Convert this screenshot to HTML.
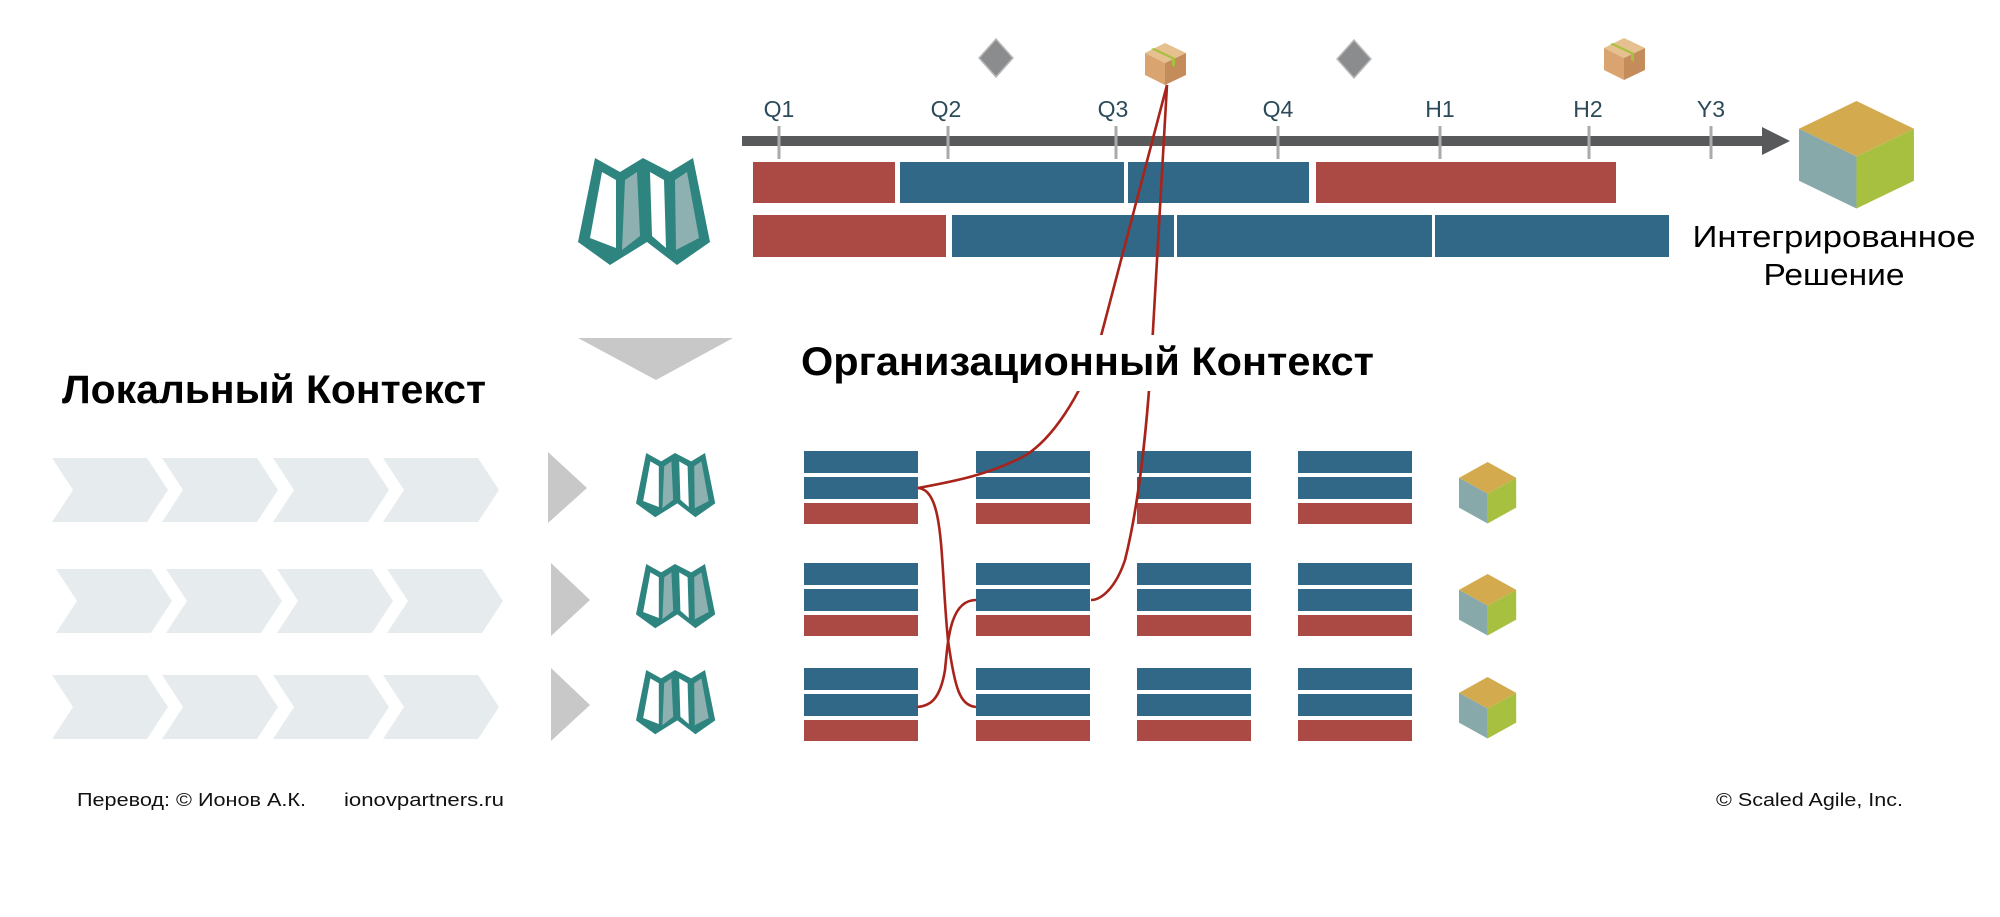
<!DOCTYPE html>
<html><head><meta charset="utf-8"><style>
html,body{margin:0;padding:0;background:#fff;width:2000px;height:917px;overflow:hidden}
svg{display:block}
text{font-family:"Liberation Sans",sans-serif}
</style></head><body>
<svg width="2000" height="917" viewBox="0 0 2000 917" xmlns="http://www.w3.org/2000/svg">
<defs>
<g id="map">
<polygon points="17,0 42,14 65,0 92,14 115,0 132,84 99,107 69,84 32,107 0,84" fill="#2e8580"/>
<polygon points="24,14 38,22 38,90 12,80" fill="#fff"/>
<polygon points="47,22 59,14 62,78 44,92" fill="#8fb0b0"/>
<polygon points="72,14 86,22 88,90 74,78" fill="#fff"/>
<polygon points="97,22 109,14 121,80 98,92" fill="#8fb0b0"/>
</g>
<g id="cube">
<polygon points="55,0 110,33 55,66 0,33" fill="#d4aa4f"/>
<polygon points="0,33 55,66 55,128 0,95" fill="#88a9a9"/>
<polygon points="110,33 55,66 55,128 110,95" fill="#a8c040"/>
</g>
<g id="box">
<polygon points="20,0 41,10 20,20 0,10" fill="#e6c08e"/>
<polygon points="0,10 20,20 20,42 0,32" fill="#d9a470"/>
<polygon points="41,10 20,20 20,42 41,32" fill="#c48c5a"/>
<polygon points="9,5 30,15 30,24 27,22 27,16 6,6" fill="#a8c040"/>
</g>
<g id="chev">
<polygon points="0,0 95,0 116,32 95,64 0,64 21,32" fill="#e6eced"/>
</g>
<g id="team">
<rect x="0" y="0" width="114" height="22" fill="#316787"/>
<rect x="0" y="26" width="114" height="22" fill="#316787"/>
<rect x="0" y="52" width="114" height="21" fill="#ab4a44"/>
</g>
</defs>

<!-- milestones -->
<polygon points="996,39 1013,58 996,77 979,58" fill="#8a8c8e" stroke="#bbb" stroke-width="1.5"/>
<polygon points="1354,40 1371,59 1354,78 1337,59" fill="#8a8c8e" stroke="#bbb" stroke-width="1.5"/>
<use href="#box" x="1145" y="43"/>
<use href="#box" x="1604" y="38"/>

<!-- axis -->
<rect x="742" y="136" width="1024" height="10" fill="#58595b"/>
<polygon points="1762,127 1790,141 1762,155" fill="#58595b"/>
<g stroke="#aaa" stroke-width="3">
<line x1="779" y1="126" x2="779" y2="159"/><line x1="948" y1="126" x2="948" y2="159"/>
<line x1="1116" y1="126" x2="1116" y2="159"/><line x1="1278" y1="126" x2="1278" y2="159"/>
<line x1="1440" y1="126" x2="1440" y2="159"/><line x1="1589" y1="126" x2="1589" y2="159"/>
<line x1="1711" y1="126" x2="1711" y2="159"/>
</g>
<g fill="#2b4a5a" font-size="23" text-anchor="middle">
<text x="779" y="117">Q1</text><text x="946" y="117">Q2</text><text x="1113" y="117">Q3</text>
<text x="1278" y="117">Q4</text><text x="1440" y="117">H1</text><text x="1588" y="117">H2</text>
<text x="1711" y="117">Y3</text>
</g>

<!-- top bars -->
<rect x="753" y="162" width="142" height="41" fill="#ab4a44"/>
<rect x="900" y="162" width="224" height="41" fill="#316787"/>
<rect x="1128" y="162" width="181" height="41" fill="#316787"/>
<rect x="1316" y="162" width="300" height="41" fill="#ab4a44"/>
<rect x="753" y="215" width="193" height="42" fill="#ab4a44"/>
<rect x="952" y="215" width="222" height="42" fill="#316787"/>
<rect x="1177" y="215" width="255" height="42" fill="#316787"/>
<rect x="1435" y="215" width="234" height="42" fill="#316787"/>

<use href="#map" x="578" y="158"/>
<use href="#cube" transform="translate(1799,101) scale(1.045,0.84)"/>
<text x="1834" y="247" font-size="31" text-anchor="middle" textLength="283" lengthAdjust="spacingAndGlyphs">Интегрированное</text>
<text x="1834" y="285" font-size="31" text-anchor="middle" textLength="141" lengthAdjust="spacingAndGlyphs">Решение</text>

<polygon points="578,338 733,338 656,380" fill="#c8c8c8"/>

<!-- teams -->
<g>
<use href="#team" x="804" y="451"/><use href="#team" x="976" y="451"/><use href="#team" x="1137" y="451"/><use href="#team" x="1298" y="451"/>
<use href="#team" x="804" y="563"/><use href="#team" x="976" y="563"/><use href="#team" x="1137" y="563"/><use href="#team" x="1298" y="563"/>
<use href="#team" x="804" y="668"/><use href="#team" x="976" y="668"/><use href="#team" x="1137" y="668"/><use href="#team" x="1298" y="668"/>
</g>

<!-- red lines -->
<g fill="none" stroke="#a8231a" stroke-width="2.6">
<path d="M1167,85 L1100,340 C1080,400 1050,440 1026,455 C990,475 950,482 918,488"/>
<path d="M1167,85 L1153,330 C1148,420 1140,500 1125,560 C1115,590 1100,600 1091,600"/>
<path d="M918,488 C945,490 940,560 948,640 C955,690 960,705 976,707"/>
<path d="M976,600 C950,600 948,640 945,670 C940,700 930,706 917,707"/>
</g>

<rect x="800" y="335" width="578" height="56" fill="#fff"/>
<text x="801" y="375" font-size="40" font-weight="bold" textLength="573" lengthAdjust="spacingAndGlyphs">Организационный Контекст</text>
<text x="62" y="403" font-size="40" font-weight="bold" textLength="424" lengthAdjust="spacingAndGlyphs">Локальный Контекст</text>

<!-- chevrons -->
<use href="#chev" x="52" y="458"/><use href="#chev" x="162" y="458"/><use href="#chev" x="273" y="458"/><use href="#chev" x="383" y="458"/>
<use href="#chev" x="56" y="569"/><use href="#chev" x="166" y="569"/><use href="#chev" x="277" y="569"/><use href="#chev" x="387" y="569"/>
<use href="#chev" x="52" y="675"/><use href="#chev" x="162" y="675"/><use href="#chev" x="273" y="675"/><use href="#chev" x="383" y="675"/>

<polygon points="548,452 587,488 548,523" fill="#c8c8c8"/>
<polygon points="551,563 590,600 551,636" fill="#c8c8c8"/>
<polygon points="551,668 590,705 551,741" fill="#c8c8c8"/>

<use href="#map" transform="translate(636,453) scale(0.6)"/>
<use href="#map" transform="translate(636,564) scale(0.6)"/>
<use href="#map" transform="translate(636,670) scale(0.6)"/>

<use href="#cube" transform="translate(1459,462) scale(0.52,0.48)"/>
<use href="#cube" transform="translate(1459,574) scale(0.52,0.48)"/>
<use href="#cube" transform="translate(1459,677) scale(0.52,0.48)"/>

<!-- footer -->
<g font-size="18" fill="#111">
<text x="77" y="806" textLength="229" lengthAdjust="spacingAndGlyphs">Перевод: © Ионов А.К.</text>
<text x="344" y="806" textLength="160" lengthAdjust="spacingAndGlyphs">ionovpartners.ru</text>
<text x="1716" y="806" textLength="187" lengthAdjust="spacingAndGlyphs">© Scaled Agile,  Inc.</text>
</g>
</svg>
</body></html>
